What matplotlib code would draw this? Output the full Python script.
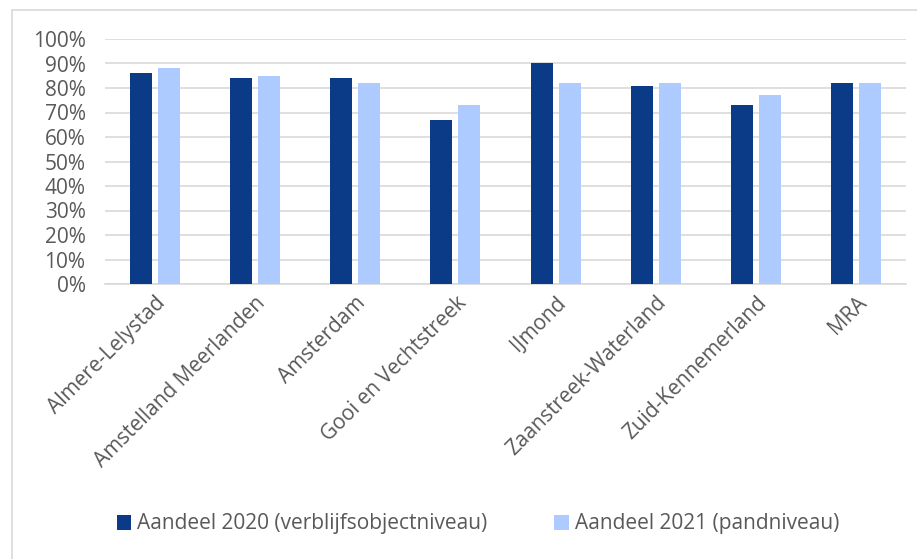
import numpy as np
import matplotlib.pyplot as plt
from matplotlib.patches import Rectangle
from matplotlib.ticker import PercentFormatter

regions = ["Almere-Lelystad", "Amstelland Meerlanden", "Amsterdam", "Gooi en Vechtstreek",
           "IJmond", "Zaanstreek-Waterland", "Zuid-Kennemerland", "MRA"]
share_2020 = [86, 84, 84, 67, 90, 81, 73, 82]
share_2021 = [88, 85, 82, 73, 82, 82, 77, 82]
series_labels = ["Aandeel 2020 (verblijfsobjectniveau)", "Aandeel 2021 (pandniveau)"]

plt.rcParams['font.family'] = ['Open Sans', 'DejaVu Sans']
text_col = '#595959'

fig = plt.figure(figsize=(9.17, 5.59), dpi=100)
# chart border
fig.patches.append(Rectangle((12 / 917, -0.1), 1.2, 1.1 - 10 / 559, transform=fig.transFigure,
                             fill=False, edgecolor='#d9d9d9', linewidth=1.2))

ax = fig.add_axes([105 / 917, 1 - 284 / 559, (906 - 105) / 917, (284 - 39) / 559])
x = np.arange(len(regions))
w = 0.22
ax.bar(x - 0.14, share_2020, w, color='#0B3A86', label=series_labels[0], zorder=3)
ax.bar(x + 0.14, share_2021, w, color='#ADCBFF', label=series_labels[1], zorder=3)

ax.set_xlim(-0.5, len(regions) - 0.5)
ax.set_ylim(0, 100)
ax.set_yticks(np.arange(0, 101, 10))
ax.yaxis.set_major_formatter(PercentFormatter(decimals=0))
ax.grid(axis='y', color='#d9d9d9', linewidth=1.2, zorder=0)
for s in ['top', 'right', 'left']:
    ax.spines[s].set_visible(False)
ax.spines['bottom'].set_color('#d9d9d9')
ax.spines['bottom'].set_linewidth(1.2)
ax.tick_params(length=0, colors=text_col, labelsize=15)
ax.tick_params(axis='y', pad=14)
ax.tick_params(axis='x', pad=6)
ax.set_xticks(x)
ax.set_xticklabels(regions, rotation=45, ha='right', rotation_mode='anchor')
for lbl in ax.get_xticklabels():
    lbl.set_color(text_col)

fig.legend(loc='center', bbox_to_anchor=(478 / 917, 1 - 524 / 559), ncol=2, frameon=False,
           fontsize=15, labelcolor=text_col, handlelength=0.7, handleheight=0.7,
           handletextpad=0.3, columnspacing=3.2)

fig.savefig('out.png', dpi=100)
